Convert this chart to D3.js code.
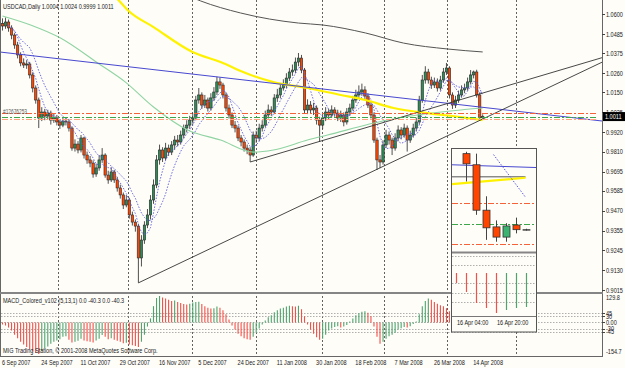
<!DOCTYPE html>
<html lang="en">
<head>
<meta charset="UTF-8">
<title>USDCAD Daily</title>
<script src="https://cdn.jsdelivr.net/npm/d3@7"></script>
<style>
  body { margin: 0; background: #fff; }
  svg { display: block; font-family: "Liberation Sans", Arial, sans-serif; }
  text { font-size: 7.5px; fill: #1a1a1a; }
</style>
</head>
<body>
<svg width="625" height="368"></svg>
<script>
// daily bars, 6 Sep 2007 .. 17 Apr 2008 (index = bar number)
let firstOpen = 1.0545;
let closes = [
  1.0531,1.0554,1.0520,1.0479,1.0422,1.0365,1.0319,1.0307,1.0313,1.0250,
  1.0175,1.0106,1.0003,1.0037,1.0014,1.0031,0.9991,1.0003,0.9980,0.9962,
  0.9985,0.9980,0.9945,0.9830,0.9853,0.9819,0.9888,0.9790,0.9762,0.9744,
  0.9681,0.9716,0.9762,0.9790,0.9675,0.9647,0.9693,0.9647,0.9601,0.9561,
  0.9503,0.9532,0.9446,0.9405,0.9382,0.9199,0.9302,0.9388,0.9446,0.9532,
  0.9618,0.9762,0.9819,0.9773,0.9830,0.9807,0.9848,0.9876,0.9865,0.9905,
  0.9945,0.9962,0.9991,1.0003,1.0106,1.0135,1.0077,1.0106,1.0060,1.0118,
  1.0152,1.0210,1.0192,1.0135,1.0060,1.0020,0.9962,0.9945,0.9888,0.9865,
  0.9830,0.9819,0.9790,0.9905,0.9888,0.9945,0.9962,1.0020,1.0049,1.0037,
  1.0118,1.0135,1.0175,1.0192,1.0232,1.0267,1.0278,1.0324,1.0347,1.0278,
  1.0049,1.0077,1.0049,1.0060,0.9991,0.9962,1.0003,1.0037,1.0020,1.0049,
  1.0031,1.0003,1.0020,0.9980,1.0037,1.0060,1.0106,1.0135,1.0152,1.0164,
  1.0129,1.0077,1.0020,0.9876,0.9762,0.9750,0.9848,0.9905,0.9876,0.9830,
  0.9888,0.9934,0.9905,0.9945,0.9876,0.9905,0.9945,0.9980,1.0106,1.0221,
  1.0267,1.0221,1.0192,1.0210,1.0175,1.0221,1.0267,1.0290,1.0135,1.0077,
  1.0106,1.0135,1.0164,1.0175,1.0210,1.0250,1.0267,1.0135,1.0004,1.0011
];
let highs = [
  1.0575,1.0580,1.0568,1.0535,1.0490,1.0440,1.0380,1.0345,1.0335,1.0325,
  1.0265,1.0190,1.0120,1.0065,1.0055,1.0050,1.0045,1.0030,1.0020,0.9995,
  1.0010,1.0005,0.9995,0.9955,0.9880,0.9870,0.9905,0.9895,0.9810,0.9785,
  0.9760,0.9740,0.9790,0.9830,0.9800,0.9700,0.9720,0.9705,0.9665,0.9620,
  0.9575,0.9560,0.9545,0.9465,0.9420,0.9395,0.9330,0.9410,0.9480,0.9560,
  0.9650,0.9790,0.9850,0.9835,0.9860,0.9850,0.9870,0.9900,0.9905,0.9930,
  0.9965,0.9990,1.0015,1.0030,1.0130,1.0175,1.0150,1.0135,1.0120,1.0145,
  1.0180,1.0240,1.0235,1.0205,1.0150,1.0080,1.0035,0.9985,0.9960,0.9905,
  0.9880,0.9850,0.9835,0.9925,0.9930,0.9970,0.9990,1.0045,1.0080,1.0070,
  1.0140,1.0170,1.0200,1.0225,1.0260,1.0290,1.0310,1.0350,1.0376,1.0365,
  1.0290,1.0110,1.0100,1.0090,1.0075,1.0010,1.0030,1.0065,1.0055,1.0075,
  1.0065,1.0050,1.0045,1.0035,1.0060,1.0085,1.0130,1.0165,1.0190,1.0200,
  1.0185,1.0145,1.0095,1.0035,0.9890,0.9790,0.9875,0.9935,0.9925,0.9890,
  0.9915,0.9960,0.9950,0.9970,0.9960,0.9930,0.9970,1.0005,1.0130,1.0250,
  1.0300,1.0285,1.0240,1.0235,1.0230,1.0245,1.0290,1.0319,1.0300,1.0150,
  1.0130,1.0160,1.0190,1.0200,1.0235,1.0278,1.0275,1.0280,1.0150,1.0024
];
let lows = [
  1.0505,1.0515,1.0498,1.0455,1.0400,1.0345,1.0300,1.0290,1.0285,1.0230,
  1.0150,1.0085,0.9945,0.9985,0.9990,0.9995,0.9965,0.9975,0.9960,0.9940,
  0.9950,0.9960,0.9925,0.9815,0.9810,0.9800,0.9805,0.9770,0.9740,0.9720,
  0.9660,0.9665,0.9700,0.9745,0.9660,0.9625,0.9635,0.9630,0.9580,0.9540,
  0.9480,0.9490,0.9425,0.9385,0.9350,0.9056,0.9150,0.9280,0.9370,0.9420,
  0.9510,0.9600,0.9735,0.9750,0.9760,0.9785,0.9790,0.9820,0.9840,0.9850,
  0.9885,0.9920,0.9940,0.9970,0.9990,1.0085,1.0055,1.0060,1.0040,1.0045,
  1.0100,1.0135,1.0170,1.0115,1.0040,1.0000,0.9945,0.9920,0.9870,0.9840,
  0.9810,0.9795,0.9750,0.9780,0.9860,0.9870,0.9925,0.9950,1.0000,1.0015,
  1.0025,1.0095,1.0115,1.0160,1.0175,1.0215,1.0245,1.0260,1.0300,1.0260,
  1.0030,1.0025,1.0030,1.0020,0.9965,0.9865,0.9940,0.9985,0.9995,1.0005,
  1.0010,0.9985,0.9980,0.9955,0.9965,1.0015,1.0045,1.0090,1.0115,1.0130,
  1.0110,1.0060,1.0000,0.9860,0.9704,0.9715,0.9735,0.9830,0.9850,0.9790,
  0.9815,0.9870,0.9880,0.9890,0.9810,0.9860,0.9890,0.9925,0.9965,1.0090,
  1.0200,1.0200,1.0170,1.0175,1.0155,1.0160,1.0205,1.0250,1.0115,1.0055,
  1.0060,1.0090,1.0120,1.0145,1.0160,1.0195,1.0230,1.0120,0.9990,0.9999
];
// MACD_Colored (5,13,1), points
let macd = [
  -10,-15,-25,-40,-60,-78,-95,-108,-120,-132,
  -142,-150,-154.7,-140,-128,-118,-105,-95,-88,-82,
  -70,-68,-85,-98,-95,-90,-80,-88,-92,-95,
  -98,-88,-80,-62,-70,-82,-78,-85,-90,-95,
  -102,-100,-108,-112,-115,-120,-95,-60,-20,20,
  80,120,129.8,122,118,112,105,108,100,95,
  90,88,92,98,100,102,90,80,72,68,
  70,78,72,60,40,15,-15,-35,-55,-68,
  -78,-82,-85,-70,-50,-30,-10,10,25,35,
  50,60,68,72,78,82,80,78,82,65,
  30,-10,-35,-55,-72,-85,-80,-60,-40,-30,
  -22,-18,-25,-20,-12,5,20,35,45,52,
  55,48,30,-20,-70,-105,-95,-80,-68,-60,
  -50,-35,-28,-22,-25,-18,-8,5,40,80,
  105,118,112,100,92,85,80,70,55,40,
  30,25,28,30,35,40,38,15,-35,-40.3
];

// moving averages: [bar, price]
let maYellow = [[32.5,1.0767],[38.4,1.0680],[41.4,1.0623],[50,1.0525],[62.9,1.0382],[72.2,1.0324],[80.5,1.0261],
  [89.7,1.0209],[101,1.0175],[112,1.0135],[120.2,1.0106],[129.5,1.0060],[140.7,1.0031],[151.7,1.0008],[159,0.9991]];
let maGray = [[62.3,1.0698],[65.6,1.0675],[78.8,1.0606],[98,1.0548],[106,1.0537],[120.2,1.0491],[132.8,1.0433],[147.4,1.0399],[159,1.0382]];
let maGreen = [[0,1.0589],[9.3,1.0537],[19.2,1.0462],[31.5,1.0319],[40.7,1.0209],[50,1.0066],[61.3,0.9934],[72.2,0.9876],
  [83.1,0.9807],[89.7,0.9819],[101,0.9876],[107.6,0.9905],[127.5,0.9991],[137.4,1.0020],[151.7,1.0049],[159,1.0060]];

// trendlines: two anchors [bar, price]
let trendBlue = [[0,1.0380],[159,1.0064]];
let trendA = [[45,0.9056],[159,0.9997]];
let trendB = [[82,0.9750],[159,1.0146]];

// order levels
let levels = [{p:1.0033,c:'#F4623A'},{p:1.0010,c:'#3DA64A'},{p:0.9997,c:'#FFA27E'}];

let priceTicks = [1.0600,1.0485,1.0375,1.0260,1.0150,1.0035,0.9920,0.9810,0.9695,0.9585,0.9470,0.9355,0.9245,0.9130,0.9015];
let dateLabels = ['6 Sep 2007','24 Sep 2007','11 Oct 2007','29 Oct 2007','16 Nov 2007','5 Dec 2007','24 Dec 2007',
  '11 Jan 2008','30 Jan 2008','18 Feb 2008','7 Mar 2008','26 Mar 2008','14 Apr 2008'];
let dateBars = [0,13,26,39,52,65,78,91,104,117,130,143,156];
let monthBars = [18.4,41.6,62.7,84,105.8,126.3,147.2,170];
let macdLevels = [45,30,0,-30,-45];
let macdLevelLabels = ['45','30','0.00','-30','-45'];

// inset: H4 window
let insetOpen  = [1.0090,1.0078,1.0029,1.0011,1.0000,1.0013,1.0008];
let insetHigh  = [1.0092,1.0090,1.0044,1.0018,1.0015,1.0021,1.0009];
let insetLow   = [1.0060,1.0024,0.9997,0.9995,0.9995,1.0004,1.0007];
let insetClose = [1.0079,1.0029,1.0010,1.0000,1.0012,1.0008,1.0008];
let insetMacd  = [-10,-19,-30,-35,-40,-37,-35,-34]; // bars -1..6
let insetMacdLevels = [17,8,-10,-20,-29];
let insetLevels = [{p:1.0037,c:'#F4623A'},{p:1.0014,c:'#3DA64A'},{p:0.9993,c:'#F4623A'}];
let insetBlue = [[-1.5,1.0078],[7,1.0075]];
let insetGray = [[-1.5,1.0065],[5.9,1.0065]];
let insetYellow = [[-1.5,1.0057],[5.9,1.0064]];
let insetDots = [[2.7,1.0089],[5.9,1.0043]];
let insetDates = [{i:-1,t:'16 Apr 04:00'},{i:3,t:'16 Apr 20:00'}];

const svg = d3.select('svg');
const bg = '#FEFDF8';
svg.append('rect').attr('width', 625).attr('height', 368).attr('fill', bg);

const x = d3.scaleLinear().domain([0, 159]).range([2.5, 482.7]);
const y = d3.scaleLinear().domain([0.9015, 1.0600]).range([290, 14]);
const my = d3.scaleLinear().domain([-154.7, 129.8]).range([354, 296]);

const defs = svg.append('defs');
defs.append('clipPath').attr('id', 'clipMain').append('rect').attr('x', 1).attr('y', 0).attr('width', 601).attr('height', 292);
defs.append('clipPath').attr('id', 'clipMacd').append('rect').attr('x', 1).attr('y', 294).attr('width', 601).attr('height', 62);

function txt(g, px, py, s, anchor) {
  return g.append('text')
    .attr('transform', 'translate(' + px + ',' + py + ') scale(0.74,1)')
    .attr('text-anchor', anchor || 'start')
    .text(s);
}

// month separators
svg.append('g').selectAll('line').data(monthBars).join('line')
  .attr('x1', d => Math.round(x(d)) + 0.5).attr('x2', d => Math.round(x(d)) + 0.5)
  .attr('y1', 0).attr('y2', 356)
  .attr('stroke', '#3a3a3a').attr('stroke-width', 0.8).attr('stroke-dasharray', '2,2');

const main = svg.append('g').attr('clip-path', 'url(#clipMain)');

// candles
let bars = closes.map((c, i) => ({i: i, o: i === 0 ? firstOpen : closes[i - 1], h: highs[i], l: lows[i], c: c}));
main.append('g').selectAll('line').data(bars).join('line')
  .attr('x1', d => x(d.i)).attr('x2', d => x(d.i))
  .attr('y1', d => y(d.h)).attr('y2', d => y(d.l))
  .attr('stroke', '#3c3c3c').attr('stroke-width', 0.9);
main.append('g').selectAll('rect').data(bars).join('rect')
  .attr('x', d => x(d.i) - 1.2).attr('width', 2.4)
  .attr('y', d => y(Math.max(d.o, d.c)))
  .attr('height', d => Math.max(0.8, Math.abs(y(d.o) - y(d.c))))
  .attr('fill', d => d.c >= d.o ? '#2E8B57' : '#FF4500')
  .attr('stroke', '#2a2a2a').attr('stroke-width', 0.6);

// dotted averages of the closes
function sma(p) {
  return closes.map((c, i) => i < 2 ? null : d3.mean(closes.slice(Math.max(0, i - p + 1), i + 1)));
}
let dotLine = d3.line().defined(d => d != null).x((d, i) => x(i)).y(d => y(d));
[5, 10].forEach(p => {
  main.append('path').attr('d', dotLine(sma(p)))
    .attr('fill', 'none').attr('stroke', '#5B5BE0').attr('stroke-width', 0.9).attr('stroke-dasharray', '1.5,1.5');
});

let maLine = d3.line().x(d => x(d[0])).y(d => y(d[1])).curve(d3.curveMonotoneX);
main.append('path').attr('d', maLine(maGreen)).attr('fill', 'none').attr('stroke', '#8FD4A2').attr('stroke-width', 1.1);
main.append('path').attr('d', maLine(maGray)).attr('fill', 'none').attr('stroke', '#555').attr('stroke-width', 1);
main.append('path').attr('d', maLine(maYellow)).attr('fill', 'none').attr('stroke', '#FFF200').attr('stroke-width', 2.2);

// trendlines, extended as rays
function ray(a, b, from, to) {
  let s = d3.scaleLinear().domain([a[0], b[0]]).range([a[1], b[1]]);
  return [[from, s(from)], [to, s(to)]];
}
let straight = d3.line().x(d => x(d[0])).y(d => y(d[1]));
main.append('path').attr('d', straight(ray(trendBlue[0], trendBlue[1], -2, 205)))
  .attr('stroke', '#4848D0').attr('stroke-width', 1).attr('fill', 'none');
main.append('path').attr('d', straight(ray(trendA[0], trendA[1], trendA[0][0], 205)))
  .attr('stroke', '#333').attr('stroke-width', 0.9).attr('fill', 'none');
main.append('path').attr('d', straight(ray(trendB[0], trendB[1], trendB[0][0], 205)))
  .attr('stroke', '#333').attr('stroke-width', 0.9).attr('fill', 'none');

// order lines
main.append('g').selectAll('line').data(levels).join('line')
  .attr('x1', 2).attr('x2', 598)
  .attr('y1', d => Math.round(y(d.p)) + 0.5).attr('y2', d => Math.round(y(d.p)) + 0.5)
  .attr('stroke', d => d.c).attr('stroke-width', 1).attr('stroke-dasharray', '6,2,2,2');
txt(svg, 3, y(levels[0].p) + 1.5, '#12676253').style('fill', '#555').style('font-size', '6.5px');

// MACD pane
const pane = svg.append('g').attr('clip-path', 'url(#clipMacd)');
pane.append('g').selectAll('line').data(macdLevels).join('line')
  .attr('x1', 1).attr('x2', 602)
  .attr('y1', d => Math.round(my(d)) + 0.5).attr('y2', d => Math.round(my(d)) + 0.5)
  .attr('stroke', '#9a9a9a').attr('stroke-width', 0.8).attr('stroke-dasharray', '1.5,1.5');
pane.append('g').selectAll('line').data(macd).join('line')
  .attr('x1', (d, i) => x(i)).attr('x2', (d, i) => x(i))
  .attr('y1', my(0)).attr('y2', d => my(d))
  .attr('stroke', (d, i) => i > 0 && d > macd[i - 1] ? '#4FA46E' : '#F2504A')
  .attr('stroke-width', 1.1);

// frame
let frame = svg.append('g').attr('stroke', '#666').attr('fill', 'none');
frame.append('line').attr('x1', 0.5).attr('x2', 0.5).attr('y1', 0).attr('y2', 356);
frame.append('line').attr('x1', 602.5).attr('x2', 602.5).attr('y1', 0).attr('y2', 356);
frame.append('line').attr('x1', 0).attr('x2', 603).attr('y1', 356.5).attr('y2', 356.5);
frame.append('line').attr('x1', 0).attr('x2', 603).attr('y1', 293).attr('y2', 293).attr('stroke', '#858585').attr('stroke-width', 2.2);

// texts
txt(svg, 3, 9, 'USDCAD,Daily  1.0004 1.0024 0.9999 1.0011');
txt(svg, 3, 303, 'MACD_Colored_v102 (5,13,1) 0.0 -40.3 0.0 -40.3');
txt(svg, 3, 353, 'MIG Trading Station, \u00A9 2001-2008 MetaQuotes Software Corp.');

// price axis
let axisG = svg.append('g');
priceTicks.forEach(p => {
  axisG.append('line').attr('x1', 602).attr('x2', 605).attr('y1', Math.round(y(p)) + 0.5).attr('y2', Math.round(y(p)) + 0.5).attr('stroke', '#444');
  txt(axisG, 606, y(p) + 2.6, p.toFixed(4));
});
let cur = closes[closes.length - 1];
axisG.append('rect').attr('x', 603).attr('y', y(cur) - 4.5).attr('width', 22).attr('height', 9).attr('fill', '#000');
txt(axisG, 605, y(cur) + 2.6, cur.toFixed(4)).style('fill', '#fff');

txt(axisG, 606, my(129.8) + 4, '129.8');
txt(axisG, 606, my(-154.7), '-154.7');
macdLevels.forEach((v, k) => {
  axisG.append('line').attr('x1', 602).attr('x2', 605).attr('y1', Math.round(my(v)) + 0.5).attr('y2', Math.round(my(v)) + 0.5).attr('stroke', '#444');
  txt(axisG, 606, my(v) + 2.6, macdLevelLabels[k]);
});

// date axis
dateBars.forEach((b, k) => txt(svg, x(b) - 0.5, 365, dateLabels[k]));

// inset window
const ix = d3.scaleLinear().domain([0, 6]).range([466.5, 526.5]);
const iy = d3.scaleLinear().domain([0.9985, 1.0095]).range([251, 149]);
const imy = d3.scaleLinear().domain([-40, 0]).range([313, 273]);
defs.append('clipPath').attr('id', 'clipInset').append('rect').attr('x', 452).attr('y', 149).attr('width', 84).attr('height', 182);
const ins = svg.append('g');
ins.append('rect').attr('x', 451.5).attr('y', 148.5).attr('width', 85).attr('height', 183.5).attr('fill', bg).attr('stroke', '#555');
const ic = ins.append('g').attr('clip-path', 'url(#clipInset)');
let iLine = d3.line().x(d => ix(d[0])).y(d => iy(d[1]));
ic.append('path').attr('d', iLine(insetBlue)).attr('stroke', '#4848D0').attr('fill', 'none');
ic.append('path').attr('d', iLine(insetGray)).attr('stroke', '#555').attr('fill', 'none');
ic.append('path').attr('d', iLine(insetYellow)).attr('stroke', '#FFF200').attr('stroke-width', 2.2).attr('fill', 'none');
ic.append('path').attr('d', iLine(insetDots)).attr('stroke', '#5B5BE0').attr('stroke-dasharray', '1.5,1.5').attr('fill', 'none');
ic.append('g').selectAll('line').data(insetLevels).join('line')
  .attr('x1', 452).attr('x2', 534)
  .attr('y1', d => Math.round(iy(d.p)) + 0.5).attr('y2', d => Math.round(iy(d.p)) + 0.5)
  .attr('stroke', d => d.c).attr('stroke-dasharray', '6,2,2,2');
let ibars = insetClose.map((c, i) => ({i: i, o: insetOpen[i], h: insetHigh[i], l: insetLow[i], c: c}));
ic.append('g').selectAll('line').data(ibars).join('line')
  .attr('x1', d => ix(d.i)).attr('x2', d => ix(d.i))
  .attr('y1', d => iy(d.h)).attr('y2', d => iy(d.l))
  .attr('stroke', '#444');
ic.append('g').selectAll('rect').data(ibars).join('rect')
  .attr('x', d => ix(d.i) - 3.5).attr('width', 7)
  .attr('y', d => iy(Math.max(d.o, d.c)))
  .attr('height', d => Math.max(0.5, Math.abs(iy(d.o) - iy(d.c))))
  .attr('fill', d => d.c > d.o ? '#3CB371' : d.c < d.o ? '#FF4500' : '#999')
  .attr('stroke', '#333').attr('stroke-width', 0.8);
ic.append('line').attr('x1', 451).attr('x2', 537).attr('y1', 252.5).attr('y2', 252.5).attr('stroke', '#858585').attr('stroke-width', 2);
ic.append('g').selectAll('line').data(insetMacdLevels).join('line')
  .attr('x1', 452).attr('x2', 536)
  .attr('y1', d => Math.round(imy(d)) + 0.5).attr('y2', d => Math.round(imy(d)) + 0.5)
  .attr('stroke', '#9a9a9a').attr('stroke-width', 0.8).attr('stroke-dasharray', '1.5,1.5');
ic.append('g').selectAll('line').data(insetMacd).join('line')
  .attr('x1', (d, k) => ix(k - 1)).attr('x2', (d, k) => ix(k - 1))
  .attr('y1', imy(0)).attr('y2', d => imy(d))
  .attr('stroke', (d, k) => k > 0 && d > insetMacd[k - 1] ? '#4FA46E' : '#F2504A')
  .attr('stroke-width', 1.2);
ic.append('line').attr('x1', 451).attr('x2', 537).attr('y1', 316.5).attr('y2', 316.5).attr('stroke', '#777');
insetDates.forEach(d => txt(ins, ix(d.i) + 0.5, 325, d.t));
</script>
</body>
</html>
